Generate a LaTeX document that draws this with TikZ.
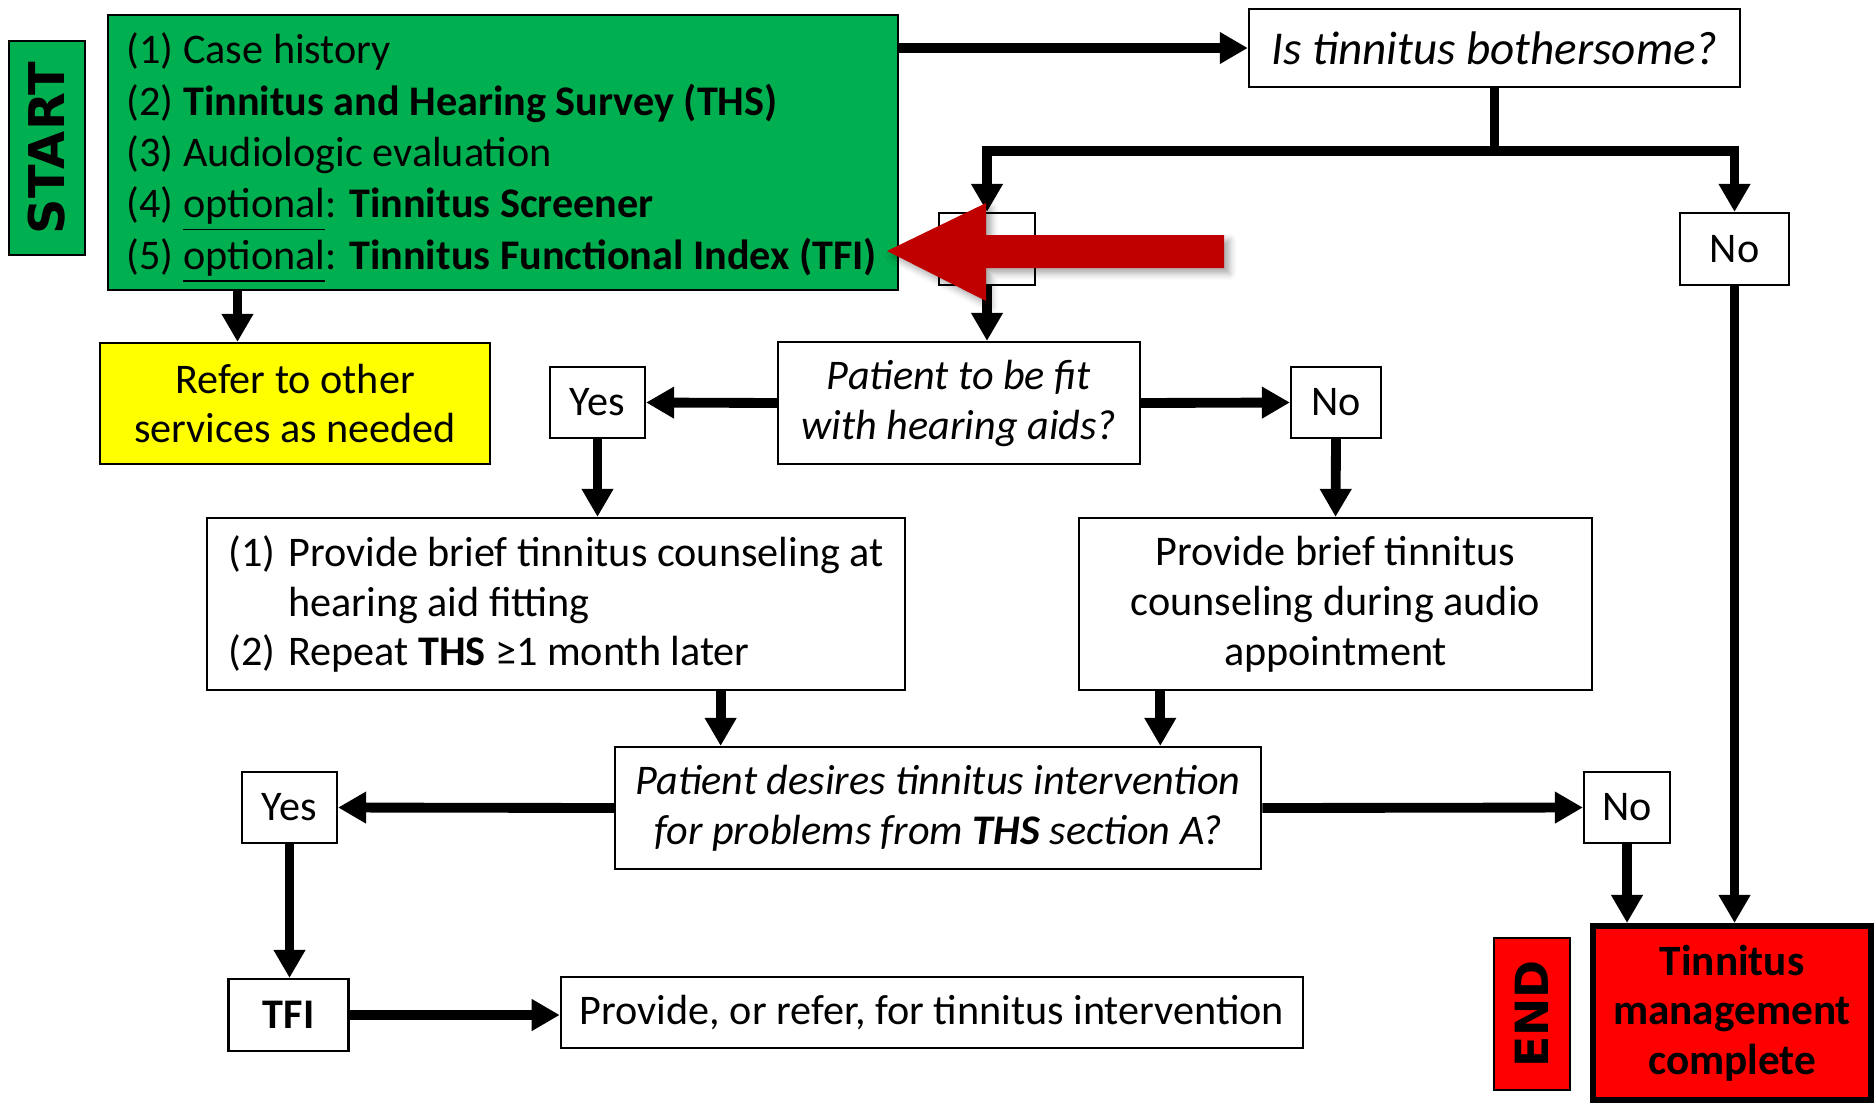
\documentclass[tikz,border=0pt]{standalone}
\usepackage{fontspec}
\setmainfont{Carlito}
\newfontfamily\tagfont{DejaVu Sans}
\usepackage{tikz}
\usetikzlibrary{arrows.meta,positioning,calc,shadows.blur}
\definecolor{tmGreen} {RGB}{  0,176, 80}
\definecolor{tmYellow}{RGB}{255,255,  0}
\definecolor{tmRed}   {RGB}{255,  0,  0}
\definecolor{tmArrow} {RGB}{192,  0,  0}

\begin{document}
\begin{tikzpicture}[x=0.01cm,y=-0.01cm,
  box/.style={draw=black,line width=0.6pt,inner sep=0pt,align=center,
              font=\fontsize{12}{14.2}\selectfont},
  ask/.style={box,font=\itshape\fontsize{12}{14.2}\selectfont},
  tag/.style={box,rotate=90,font=\tagfont\bfseries\fontsize{14}{16}\selectfont},
  flow/.style={line width=2.8pt,-{Triangle[length=0.28cm,width=0.3cm]}}]
\useasboundingbox (0,0) rectangle (1874,1103);

% Start: intake steps
\node[tag,fill=tmGreen,minimum width=2.14cm,minimum height=0.76cm] (start) at (47,148) {START};
\node[box,fill=tmGreen,align=flush left,text width=7.52cm,minimum width=7.9cm,minimum height=2.75cm,
  font=\fontsize{12}{14.6}\selectfont]
  (intake) at (503,152.5) {\rule{0pt}{0.42cm}(1) Case history\\
  (2) \textbf{Tinnitus and Hearing Survey (THS)}\\
  (3) Audiologic evaluation\\
  (4) \underline{optional}: \textbf{Tinnitus Screener}\\
  (5) \underline{optional}: \textbf{Tinnitus Functional Index (TFI)}};
\node[box,fill=tmYellow,minimum width=3.9cm,minimum height=1.21cm] (refer) at (295,403.5)
  {Refer to other\\services as needed};

% First question
\node[ask,font=\itshape\fontsize{13.4}{15}\selectfont,minimum width=4.91cm,minimum height=0.78cm]
  (bother) at (1494.5,48) {Is tinnitus bothersome?};
\node[box,minimum width=0.96cm,minimum height=0.72cm] (hid) at (987,249) {};
\node[box,minimum width=1.09cm,minimum height=0.72cm] (no1) at (1734.5,249) {No};

% Hearing aid question
\node[ask,minimum width=3.62cm,minimum height=1.22cm] (fit) at (959,403)
  {Patient to be fit\\with hearing aids?};
\node[box,minimum width=0.95cm,minimum height=0.71cm] (yes1) at (597.5,402.5) {Yes};
\node[box,minimum width=0.9cm,minimum height=0.71cm] (no2) at (1336,402.5) {No};
\node[box,align=left,minimum width=6.98cm,minimum height=1.72cm]
  (cl) at (556,604) {\makebox[0.6cm][l]{(1)}Provide brief tinnitus counseling at\\
  \hspace*{0.6cm}hearing aid fitting\\
  \makebox[0.6cm][l]{(2)}Repeat \textbf{THS} ≥1 month later};
\node[box,minimum width=5.13cm,minimum height=1.72cm] (cr) at (1335.5,604)
  {Provide brief tinnitus\\counseling during audio\\appointment};

% Intervention question
\node[ask,minimum width=6.46cm,minimum height=1.22cm] (desire) at (938,808)
  {Patient desires tinnitus intervention\\for problems from \textbf{THS} section A?};
\node[box,minimum width=0.95cm,minimum height=0.71cm] (yes3) at (289.5,807.5) {Yes};
\node[box,minimum width=0.86cm,minimum height=0.71cm] (no3) at (1627,807.5) {No};
\node[box,font=\bfseries\fontsize{12}{14.2}\selectfont,minimum width=1.2cm,minimum height=0.72cm]
  (tfi) at (288.5,1015) {TFI};
\node[box,minimum width=7.42cm,minimum height=0.71cm] (prov) at (932,1012.5)
  {Provide, or refer, for tinnitus intervention};

% End
\node[tag,fill=tmRed,font=\tagfont\bfseries\fontsize{13}{15}\selectfont,
  minimum width=1.52cm,minimum height=0.76cm] (endtag) at (1532,1014) {END};
\node[box,fill=tmRed,line width=1.7pt,font=\bfseries\fontsize{12.3}{14}\selectfont,
  minimum width=2.78cm,minimum height=1.74cm] (endb) at (1732,1013)
  {Tinnitus\\management\\complete};

% Connectors
\coordinate (rdrop) at ($(intake.south west)!0.165!(intake.south east)$);
\coordinate (clout) at ($(cl.south west)!0.735!(cl.south east)$);
\coordinate (crout) at ($(cr.south west)!0.16!(cr.south east)$);
\draw[flow] (intake.east |- bother.west) -- (bother.west);
\draw[flow] (rdrop) -- (rdrop |- refer.north);
\draw[flow] (bother.south) -- ++(0,63) -| (hid.north);
\draw[flow] (bother.south) -- ++(0,63) -| (no1.north);
\draw[flow] (hid.south) -- (hid.south |- fit.north);
\draw[flow] (fit.west) -- (yes1.east);
\draw[flow] (fit.east) -- (no2.west);
\draw[flow] (yes1.south) -- (yes1.south |- cl.north);
\draw[flow] (no2.south) -- (cr.north);
\draw[flow] (clout) -- (clout |- desire.north);
\draw[flow] (crout) -- (crout |- desire.north);
\draw[flow] (desire.west) -- (yes3.east);
\draw[flow] (desire.east) -- (no3.west);
\draw[flow] (yes3.south) -- (yes3.south |- tfi.north);
\draw[flow] (tfi.east) -- (tfi.east -| prov.west);
\draw[flow] (no3.south) -- (no3.south |- endb.north);
\draw[flow] (no1.south) -- (no1.south |- endb.north);

% Red pointer onto step (5)
\fill[tmArrow,blur shadow={shadow xshift=1.5pt,shadow yshift=-1.5pt,shadow opacity=35}]
  (887,251) -- (986,203) -- (986,235) -- (1224,235) -- (1224,268)
  -- (986,268) -- (986,301) -- cycle;
\end{tikzpicture}
\end{document}
